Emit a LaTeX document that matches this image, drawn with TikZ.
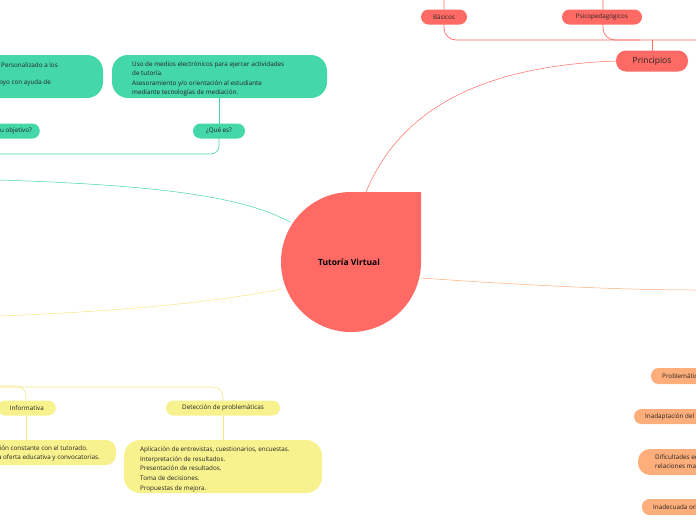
\documentclass[tikz,border=0pt]{standalone}
\usepackage{fontspec}
\setmainfont{Open Sans}
\definecolor{rd}{HTML}{FF6B64}
\definecolor{gr}{HTML}{44D7A8}
\definecolor{yl}{HTML}{F8F28E}
\definecolor{or}{HTML}{FDAE7A}
\definecolor{tx}{HTML}{222222}
\tikzset{
 pill/.style={rounded corners=7.5pt,minimum height=15pt,inner xsep=8pt,font=\fontsize{6.3}{7}\selectfont,text=tx},
 big/.style={rounded corners=16pt,align=left,font=\fontsize{6.3}{9.5}\selectfont,text=tx,inner xsep=0pt},
 lbl/.style={font=\fontsize{6.3}{7}\selectfont,text=tx,inner sep=0pt},
}
\begin{document}
\begin{tikzpicture}[x=1pt,y=-1pt]
\useasboundingbox (0,0) rectangle (696,520);
\clip (0,0) rectangle (696,520);
\fill[white] (0,0) rectangle (696,520);
% connectors
\draw[rd,line width=0.7pt,rounded corners=12pt] (444,0) |- (696,40);
\draw[rd,line width=0.7pt,rounded corners=12pt] (603,0) |- (640,40);
\coordinate (pt) at (652,40);
\coordinate (ct) at (366,192);
\draw[rd,line width=0.5pt] (pt) -- (652,52);
\draw[rd,line width=0.5pt] (616,61) .. controls (480,66) and (400,110) .. (ct);
\draw[gr,line width=0.6pt] (219,98) -- (219,124);
\draw[gr,line width=0.6pt,rounded corners=8pt] (219,138) |- (0,154);
\draw[gr,line width=0.5pt] (0,180) .. controls (150,185) and (240,195) .. (290,222);
\draw[yl!90!orange,line width=0.5pt] (282,289) .. controls (200,305) and (100,312) .. (0,316);
\draw[yl!90!orange,line width=0.6pt,rounded corners=10pt] (0,386) -| (26,400);
\draw[yl!90!orange,line width=0.6pt,rounded corners=10pt] (0,387) -| (223,400);
\draw[yl!90!orange,line width=0.6pt] (26,416) -- (26,441);
\draw[yl!90!orange,line width=0.6pt] (223,416) -- (223,441);
\draw[or,line width=0.5pt] (421,278) .. controls (520,285) and (620,290) .. (696,290);
% central
\fill[rd] (421,192) -- (421,262) arc[start angle=0,end angle=270,radius=70] -- cycle;
\node[font=\bfseries\fontsize{8.5}{10}\selectfont,text=black] (c) at (349,262) {Tutoría Virtual};
% red
\node[pill,fill=rd,rounded corners=10pt,minimum height=21pt,minimum width=72pt,font=\fontsize{8.5}{10}\selectfont] (p) at (652,61) {Principios};
\node[pill,fill=rd,minimum width=46pt] (b) at (444,17) {Básicos};
\node[pill,fill=rd,minimum width=80pt] (ps) at (602,17) {Psicopedagógicos};
% green
\node[pill,fill=gr,minimum width=52pt] (q) at (219,131) {¿Qué es?};
\node[pill,fill=gr,anchor=east] (o) at (40,131) {¿Su objetivo?};
\fill[gr,rounded corners=16pt] (112,55) rectangle (327,98);
\node[big,anchor=north west] (d) at (132,58)
 {Uso de medios electrónicos para ejercer actividades\\de tutoría.\\Asesoramiento y/o orientación al estudiante\\mediante tecnologías de mediación.};
\fill[gr,rounded corners=16pt] (-60,55) rectangle (103,98);
\node[lbl,anchor=east] (o1) at (58,65) {Personalizado a los};
\node[lbl,anchor=east] (o3) at (51,83) {Apoyo con ayuda de};
% yellow
\node[pill,fill=yl,anchor=east,inner xsep=12pt] (inf) at (56,408) {Informativa};
\node[pill,fill=yl,minimum width=114pt] (det) at (223,408) {Detección de problemáticas};
\fill[yl,rounded corners=10pt] (-60,440) rectangle (116,465);
\node[lbl,anchor=east] (i1) at (88,448) {Comunicación constante con el tutorado.};
\node[lbl,anchor=east] (i2) at (100,458) {Informar sobre la oferta educativa y convocatorias.};
\fill[yl,rounded corners=16pt] (124,440) rectangle (322,493);
\node[big,anchor=north west,font=\fontsize{6.3}{9.7}\selectfont] (dd) at (140,443)
 {Aplicación de entrevistas, cuestionarios, encuestas.\\Interpretación de resultados.\\Presentación de resultados.\\Toma de decisiones.\\Propuestas de mejora.};
% orange
\fill[or,rounded corners=7.5pt] (651,368) rectangle (760,384);
\node[lbl,anchor=west] (r1) at (662,376) {Problemáticas};
\fill[or,rounded corners=7.5pt] (634,409) rectangle (760,424);
\node[lbl,anchor=west] (r2) at (645,416.5) {Inadaptación del estudiante};
\fill[or,rounded corners=12pt] (638,449) rectangle (760,475);
\node[lbl,anchor=north west,align=left,font=\fontsize{6.3}{9.5}\selectfont] (r3) at (655,454) {Dificultades en las\\relaciones maestro};
\fill[or,rounded corners=7.5pt] (642,499) rectangle (760,515);
\node[lbl,anchor=west] (r4) at (653,507) {Inadecuada orientación};
\end{tikzpicture}
\end{document}
